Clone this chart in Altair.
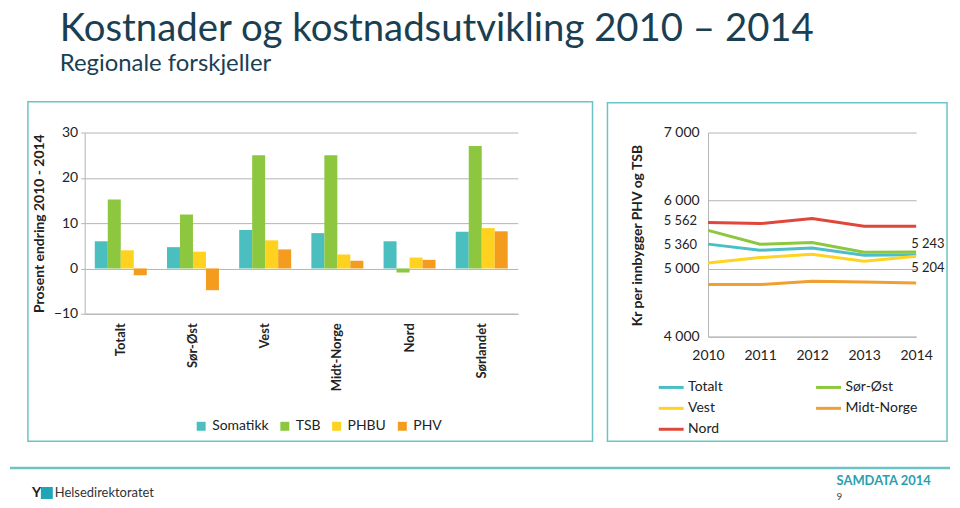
import altair as alt
import pandas as pd

# ---------------- data ----------------
regions = ["Totalt", "Sør-Øst", "Vest", "Midt-Norge", "Nord", "Sørlandet"]
series = ["Somatikk", "TSB", "PHBU", "PHV"]
somatikk = [6.0, 4.7, 8.5, 7.8, 6.0, 8.1]
tsb = [15.2, 11.9, 25.0, 25.0, -0.9, 27.0]
phbu = [4.0, 3.7, 6.2, 3.1, 2.4, 8.9]
phv = [-1.5, -4.8, 4.2, 1.7, 1.9, 8.2]
bar_colors = ["#4BBFC0", "#8DC63F", "#FFD21F", "#F39C1E"]

years = [2010, 2011, 2012, 2013, 2014]
line_regions = ["Totalt", "Sør-Øst", "Vest", "Midt-Norge", "Nord"]
kr_totalt = [5360, 5270, 5304, 5196, 5204]
kr_sorost = [5562, 5358, 5382, 5240, 5243]
kr_vest = [5083, 5162, 5211, 5108, 5181]
kr_midt = [4765, 4765, 4814, 4804, 4789]
kr_nord = [5676, 5662, 5735, 5623, 5623]
line_colors = ["#4BBFC5", "#8DC63F", "#FFD320", "#F0A030", "#E0463A"]

ann_years = [2010, 2010, 2014, 2014]
ann_values = [5562, 5360, 5243, 5204]
ann_labels = ["5 562", "5 360", "5 243", "5 204"]

TEAL = "#6CC3C5"
DARK = "#1B3F52"
GRID = "#B3B3B3"

# ---------------- tables ----------------
bar_rows = []
for name, vals in zip(series, [somatikk, tsb, phbu, phv]):
    for r, v in zip(regions, vals):
        bar_rows.append({"region": r, "serie": name, "value": v})
df_bar = pd.DataFrame(bar_rows)

line_rows = []
for name, vals in zip(line_regions, [kr_totalt, kr_sorost, kr_vest, kr_midt, kr_nord]):
    for y, v in zip(years, vals):
        line_rows.append({"region": name, "year": y, "kr": v})
df_line = pd.DataFrame(line_rows)

df_ann = pd.DataFrame({"year": ann_years, "kr": ann_values, "label": ann_labels})

one = pd.DataFrame({"a": [0]})


def label(txt, x, y, size, color="#222", weight="normal", align="left", baseline="middle"):
    return alt.Chart(one).mark_text(
        text=txt, fontSize=size, color=color, fontWeight=weight,
        align=align, baseline=baseline, font="Lato",
    ).encode(x=alt.value(x), y=alt.value(y))


def box(x1, x2, y1, y2, **kw):
    return alt.Chart(one).mark_rect(**kw).encode(
        x=alt.value(x1), x2=alt.value(x2), y=alt.value(y1), y2=alt.value(y2)
    )


# ---------------- left chart (origin page 83,131) ----------------
bars = alt.Chart(df_bar).mark_bar().encode(
    x=alt.X(
        "region:N", sort=regions,
        scale=alt.Scale(paddingInner=0.28, paddingOuter=0.14),
        axis=alt.Axis(title=None, labelAngle=270, labelFontWeight="bold", labelFontSize=13,
                      labelPadding=9, ticks=False, domainColor=GRID, labelColor="#222"),
    ),
    xOffset=alt.XOffset("serie:N", sort=series),
    y=alt.Y(
        "value:Q", scale=alt.Scale(domain=[-10, 30], nice=False),
        axis=alt.Axis(values=[-10, 0, 10, 20, 30], title="Prosent endring 2010 - 2014",
                      titleFontSize=14, titleFontWeight="bold", titleAngle=270,
                      titleX=-45, titleY=91, titleAlign="center", titleBaseline="middle",
                      labelFontSize=14, labelPadding=3, tickSize=4, tickColor=GRID,
                      domainColor=GRID, gridColor=GRID, labelColor="#222", titleColor="#222"),
    ),
    color=alt.Color(
        "serie:N", sort=series, scale=alt.Scale(domain=series, range=bar_colors),
        legend=alt.Legend(orient="none", legendX=110, legendY=288, direction="horizontal",
                          title=None, symbolType="square", symbolSize=81, symbolStrokeWidth=0,
                          labelFontSize=14, columnPadding=9, labelColor="#222"),
    ),
)

left = alt.layer(
    box(-75, 869, -123, 369, opacity=0),
    box(-57, 510, -31, 310, filled=False, color=TEAL, strokeWidth=1.5),
    box(525, 866, -30, 310, filled=False, color=TEAL, strokeWidth=1.5),
    alt.Chart(one).mark_rule(color=TEAL, strokeWidth=2.5).encode(
        x=alt.value(-75), x2=alt.value(869), y=alt.value(337)
    ),
    label("Kostnader og kostnadsutvikling 2010 – 2014", -25, -92, 38.5, color=DARK, baseline="alphabetic"),
    label("Regionale forskjeller", -25, -62, 24, color=DARK, baseline="alphabetic"),
    label("Y", -53, 362, 14, color="#222", weight="bold"),
    box(-44, -32, 356, 368, color="#1FA5B5"),
    label("Helsedirektoratet", -30, 362, 13, color="#333"),
    label("SAMDATA 2014", 755, 350, 13, color="#2AA0AE", weight="bold"),
    label("9", 755, 366, 10, color="#444"),
    bars,
).properties(width=435, height=182)

# ---------------- right chart (origin page 709,131) ----------------
lines = alt.Chart(df_line).mark_line(strokeWidth=3).encode(
    x=alt.X(
        "year:O", scale=alt.Scale(type="point", padding=0),
        axis=alt.Axis(title=None, labelAngle=0, labelFontSize=14, labelPadding=12,
                      ticks=False, domainColor=GRID, labelColor="#222"),
    ),
    y=alt.Y(
        "kr:Q", scale=alt.Scale(domain=[4000, 7000], nice=False),
        axis=alt.Axis(values=[4000, 5000, 6000, 7000],
                      labelExpr="replace(format(datum.value, ','), ',', ' ')",
                      title="Kr per innbygger PHV og TSB", titleFontSize=14,
                      titleFontWeight="bold", titleAngle=270, titleX=-71, titleY=103,
                      titleAlign="center", titleBaseline="middle",
                      labelFontSize=14, labelPadding=9, ticks=False,
                      domainColor=GRID, gridColor=GRID, labelColor="#222", titleColor="#222"),
    ),
    color=alt.Color(
        "region:N", sort=line_regions, scale=alt.Scale(domain=line_regions, range=line_colors),
        legend=alt.Legend(orient="none", legendX=-51, legendY=242, columns=2,
                          direction="horizontal", title=None,
                          symbolType="stroke", symbolSize=625, symbolStrokeWidth=3,
                          labelFontSize=14, columnPadding=87, rowPadding=-11, labelOffset=3,
                          labelColor="#222"),
    ),
)


def ann(lbl, align, dx, dy):
    return alt.Chart(df_ann).transform_filter(alt.datum.label == lbl).mark_text(
        align=align, dx=dx, dy=dy, fontSize=13, color="#222", font="Lato"
    ).encode(x="year:O", y="kr:Q", text="label:N")


right = alt.layer(
    lines,
    ann("5 562", "right", -11, -9),
    ann("5 360", "right", -11, 1),
    ann("5 243", "left", -5, -8),
    ann("5 204", "left", -5, 13),
).properties(width=209, height=205)

chart = alt.hconcat(left, right, spacing=191, bounds="flush").resolve_scale(
    color="independent"
).properties(padding=0).configure(font="Lato").configure_view(stroke="transparent")

chart.save("out.html", embed_options={"renderer": "svg", "actions": False})
